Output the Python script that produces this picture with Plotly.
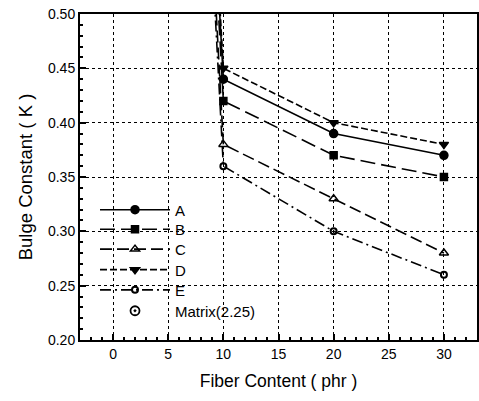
import plotly.graph_objects as go

fiber = [0, 10, 20, 30]
matrix_value = 2.25
A = [matrix_value, 0.44, 0.39, 0.37]
B = [matrix_value, 0.42, 0.37, 0.35]
C = [matrix_value, 0.38, 0.33, 0.28]
D = [matrix_value, 0.45, 0.40, 0.38]
E = [matrix_value, 0.36, 0.30, 0.26]
names = ["A", "B", "C", "D", "E"]
matrix_label = "Matrix(2.25)"
x_ticks = [0, 5, 10, 15, 20, 25, 30]
y_ticks = [0.20, 0.25, 0.30, 0.35, 0.40, 0.45, 0.50]

styles = {
    "A": dict(dash="solid", symbol="circle", size=8, lw=1.5),
    "B": dict(dash="15px,6px", symbol="square", size=7, lw=1.5),
    "C": dict(dash="12px,5px", symbol="triangle-up-open", size=8, lw=1.5),
    "D": dict(dash="7px,3px", symbol="triangle-down", size=8, lw=1.5),
    "E": dict(dash="11px,4px,2px,4px", symbol="circle-open", size=6, lw=2),
}

FONT = "Liberation Sans, Arial"
legend_rows = [0.399, 0.339, 0.278, 0.215, 0.153, 0.089]
legend_ids = ["legend", "legend2", "legend3", "legend4", "legend5", "legend6"]

fig = go.Figure()
for i, (name, ys) in enumerate(zip(names, [A, B, C, D, E])):
    s = styles[name]
    fig.add_trace(go.Scatter(
        x=fiber, y=ys, name=name, mode="lines+markers",
        line=dict(color="black", width=1.6, dash=s["dash"]),
        marker=dict(symbol=s["symbol"], size=s["size"], color="black",
                    line=dict(color="black", width=s["lw"])),
        cliponaxis=True, legend=legend_ids[i],
    ))

fig.add_trace(go.Scatter(
    x=[fiber[0]], y=[matrix_value], name=matrix_label, mode="markers",
    marker=dict(symbol="circle-dot", size=9, color="white",
                line=dict(color="black", width=1.8)),
    legend=legend_ids[5],
))

axis_common = dict(
    showline=True, linecolor="black", linewidth=2, mirror=True,
    ticks="inside", ticklen=6, tickcolor="black", tickwidth=1.5,
    showgrid=True, gridcolor="black", griddash="dot", gridwidth=1,
    zeroline=False, automargin=False,
    tickfont=dict(family=FONT, size=14, color="black"),
)

fig.update_xaxes(
    range=[-3, 33], tickvals=x_ticks, ticktext=[str(v) for v in x_ticks],
    title_text="Fiber Content ( phr )", title_standoff=14,
    title_font=dict(family=FONT, size=17.5, color="black"),
    minor=dict(dtick=1, ticks="inside", ticklen=3, tickcolor="black", showgrid=False),
    **axis_common,
)
fig.update_yaxes(
    range=[0.20, 0.50], tickvals=y_ticks, ticktext=[f"{v:.2f}" for v in y_ticks],
    title_text="Bulge Constant ( K )", title_standoff=10,
    title_font=dict(family=FONT, size=18.5, color="black"),
    minor=dict(dtick=0.01, ticks="inside", ticklen=3, tickcolor="black", showgrid=False),
    **axis_common,
)

legend_style = dict(x=0.0378, xanchor="left", yanchor="middle",
                    bgcolor="rgba(0,0,0,0)", borderwidth=0,
                    font=dict(family=FONT, size=15, color="black"), itemwidth=70)
layout_legends = {lid: dict(y=yy, **legend_style) for lid, yy in zip(legend_ids, legend_rows)}

fig.update_layout(
    width=479, height=401,
    margin=dict(l=80, r=2, t=14, b=61),
    plot_bgcolor="white", paper_bgcolor="white",
    font=dict(family=FONT, color="black"),
    showlegend=True,
    **layout_legends,
)

fig.write_html(
    "out.html",
    config={"displayModeBar": False},
    post_script="document.body.style.margin='0';document.body.style.overflow='hidden';",
)
